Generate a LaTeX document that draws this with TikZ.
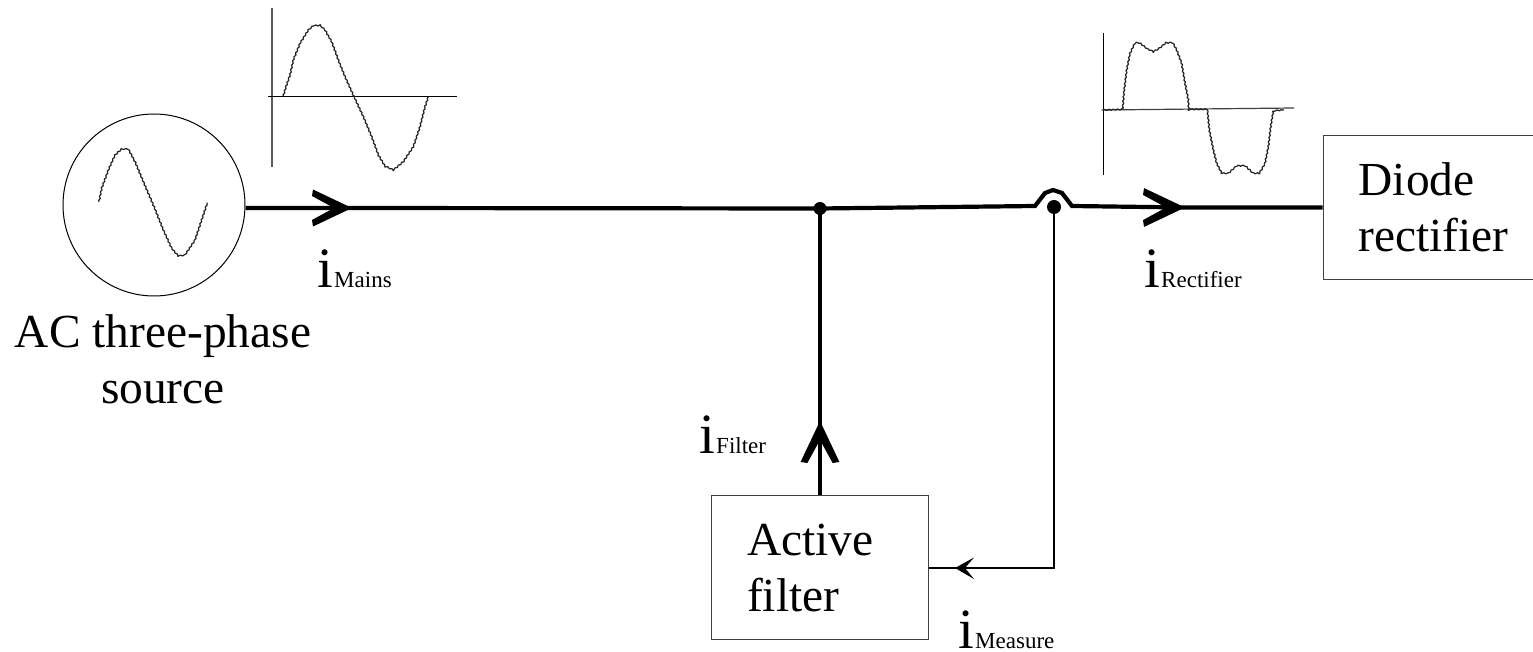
\documentclass[tikz,border=0pt]{standalone}
\usepackage{fontspec}
\setmainfont{Liberation Serif}
\usetikzlibrary{decorations.pathmorphing}
\newcommand{\curlabel}[1]{{\fontsize{28.5}{28.5}\selectfont i}\hspace{0.5pt}{\fontsize{11.5}{11.5}\selectfont #1}}
\tikzset{
  x=0.5pt,y=-0.5pt,
  wire/.style={line width=2.1pt,black},
  thinwire/.style={line width=0.6pt,black},
  trace/.style={line width=0.62pt,black!85,line join=round,decorate,decoration={zigzag,amplitude=0.3pt,segment length=2.2pt}},
  axis/.style={line width=0.6pt,black},
  greyaxis/.style={line width=0.75pt,black!65},
  block/.style={draw=black!75,line width=0.6pt,inner sep=0pt,anchor=north west,align=left},
  bigtext/.style={font=\fontsize{23.7}{28}\selectfont},
  cur/.style={inner sep=0pt,anchor=base west},
  dotnode/.style={circle,fill=black,inner sep=0pt,minimum size=#1},
  fathead/.pic={\fill[black] (0,0) -- (-39,-18.5) -- (-40,-12) -- (-18,0) -- (-40,12) -- (-39,18.5) -- cycle;},
}
\begin{document}
\begin{tikzpicture}
\useasboundingbox (0,0) rectangle (1533,652);
% nodes
\node[draw=black,line width=0.5pt,circle,minimum size=91pt,inner sep=0pt] (src) at (154,205) {};
\node[block,bigtext,text width=108.5pt,minimum height=72pt] (filter) at (711,495) {\hspace*{17.8pt}Active\\\hspace*{17.8pt}filter};
\node[block,bigtext,text width=106pt,minimum height=72pt] (rect) at (1322.5,135) {\hspace*{17.8pt}Diode\\\hspace*{17.8pt}rectifier};
\node[bigtext,align=center,inner sep=0pt] (srclabel) at (163,359) {AC three-phase\\source};
\node[dotnode=6.5pt] (j1) at (820,208.5) {};
\node[dotnode=7pt] (j2) at (1054,207) {};
% current labels
\node[cur] (imains) at (317,288) {\curlabel{Mains}};
\node[cur] (irect) at (1144,288) {\curlabel{Rectifier}};
\node[cur] (ifilter) at (699,454) {\curlabel{Filter}};
\node[cur] (imeas) at (958,648) {\curlabel{Measure}};
% main line
\coordinate (a1) at (352,208);
\coordinate (h1) at (1035,206);
\coordinate (h2) at (1045,193);
\coordinate (h3) at (1053,190);
\coordinate (h4) at (1062,193);
\coordinate (h5) at (1072,206);
\coordinate (a2) at (1185,207.5);
\coordinate (a3) at (820,421);
\draw[wire] (src.east |- a1) -- (a1) -- (j1.center) -- (h1) -- (h2) -- (h3) -- (h4) -- (h5) -- (a2) -- (rect.west |- a2);
\pic at (a1) {fathead};
\pic[scale=1.05] at (a2) {fathead};
% filter branch
\draw[wire] (filter.north -| j1) -- (j1.center);
\pic[rotate=90,scale=1.05] at (a3) {fathead};
% measure
\coordinate (m1) at (1054,568);
\coordinate (a4) at (955,568);
\draw[thinwire] (j2.center) -- (m1) -- (filter.east |- m1);
\fill (a4) -- (974,557.5) -- (965,568) -- (974,579) -- cycle;
% plot 1
\draw[greyaxis] (272,8) -- (272,167);
\draw[axis] (268,96.5) -- (457,96.5);
\begin{scope}[shift={(250,0)},x=0.16667pt,y=-0.16667pt]
\draw[trace] (100,288) -- (108,260) -- (120,225) -- (130,180) -- (150,130) -- (175,90) -- (190,77) -- (210,76) -- (225,90) -- (245,125) -- (265,180) -- (285,230) -- (312,290) -- (340,350) -- (365,410) -- (385,465) -- (405,498) -- (430,510) -- (460,485) -- (490,440) -- (510,380) -- (525,320) -- (535,290);
\end{scope}
% source waveform
\begin{scope}[shift={(50,130)},x=0.16667pt,y=-0.16667pt]
\draw[trace] (147,215) -- (155,175) -- (175,120) -- (195,75) -- (215,57) -- (235,57) -- (255,95) -- (280,155) -- (310,225) -- (340,300) -- (365,355) -- (385,378) -- (405,375) -- (435,330) -- (455,270) -- (472,218);
\end{scope}
% plot 2
\draw[axis] (1103.3,33) -- (1103.3,175);
\draw[axis,black!75] (1101.7,110) -- (1294,108);
\begin{scope}[shift={(1000,20)},x=0.16667pt,y=-0.16667pt]
\draw[trace] (310,270) -- (368,268) -- (372,215) -- (380,150) -- (390,100) -- (405,68) -- (418,68) -- (440,85) -- (460,95) -- (478,85) -- (498,68) -- (518,68) -- (530,90) -- (545,130) -- (555,190) -- (565,240) -- (566,268) -- (622,268) -- (628,330) -- (640,390) -- (650,430) -- (665,460) -- (685,460) -- (710,437) -- (735,437) -- (760,460) -- (778,460) -- (795,430) -- (805,380) -- (812,320) -- (820,272) -- (852,270);
\end{scope}
\end{tikzpicture}
\end{document}
